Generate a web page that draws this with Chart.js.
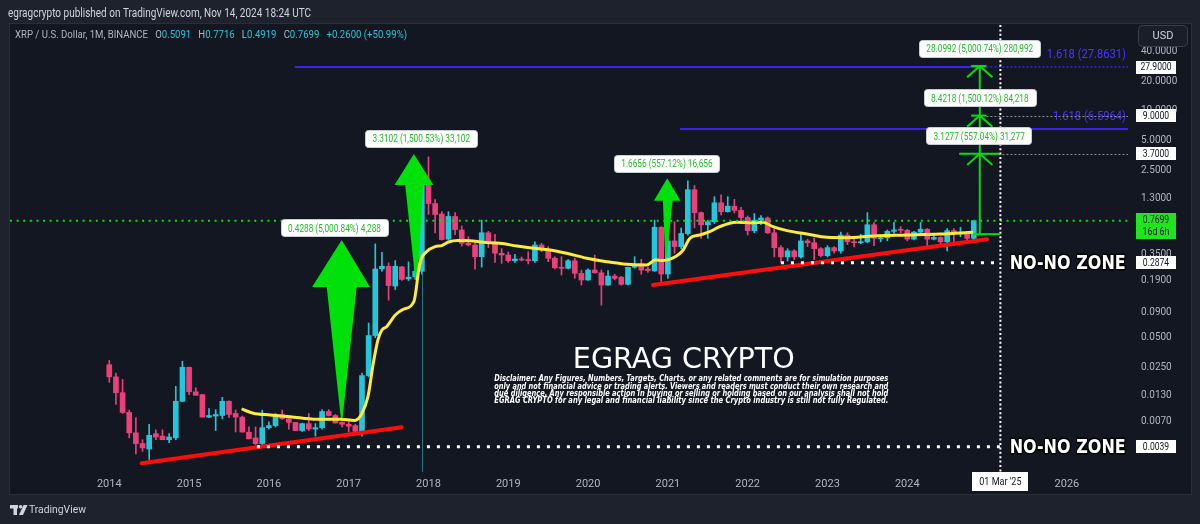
<!DOCTYPE html>
<html lang="en">
<head>
<meta charset="utf-8">
<title>XRP / U.S. Dollar, 1M, BINANCE</title>
<script src="https://cdn.jsdelivr.net/npm/chart.js@4.4.1/dist/chart.umd.min.js"></script>
<style>
  html, body { margin: 0; padding: 0; background: #1e222d; overflow: hidden; }
  canvas { display: block; }
</style>
</head>
<body>
<canvas id="chartXrp" width="1200" height="524"></canvas>
<script>
// Monthly candles, Jan 2014 .. Nov 2024 (index 0 = Jan 2014)
const opens = [
  0.0266, 0.0200, 0.0138, 0.0087, 0.0054, 0.0042, 0.0037, 0.0053, 0.0050, 0.0046, 0.0048, 0.0113,
  0.0250, 0.0141, 0.0132, 0.0078, 0.0080, 0.0081, 0.0113, 0.0085, 0.0078, 0.0055, 0.0048, 0.0042,
  0.0061, 0.0064, 0.0083, 0.0075, 0.0069, 0.0057, 0.0067, 0.0059, 0.0061, 0.0089, 0.0081, 0.0069,
  0.0066, 0.0064, 0.0056, 0.0206, 0.0525, 0.250, 0.265, 0.167, 0.261, 0.1975, 0.207, 0.236,
  1.86, 1.15, 0.90, 0.50, 0.85, 0.62, 0.454, 0.436, 0.332, 0.581, 0.46, 0.359,
  0.345, 0.302, 0.314, 0.31, 0.302, 0.436, 0.388, 0.32, 0.259, 0.253, 0.302, 0.225,
  0.1925, 0.243, 0.228, 0.171, 0.211, 0.205, 0.174, 0.259, 0.28, 0.248, 0.238, 0.66,
  0.2215, 0.48, 0.42, 0.57, 1.59, 0.93, 0.70, 0.75, 1.17, 0.95, 1.08, 0.98,
  0.83, 0.61, 0.78, 0.82, 0.58, 0.41, 0.33, 0.38, 0.33, 0.48, 0.46, 0.40,
  0.34, 0.41, 0.38, 0.55, 0.47, 0.46, 0.47, 0.70, 0.505, 0.515, 0.60, 0.62,
  0.615, 0.50, 0.59, 0.63, 0.50, 0.52, 0.47, 0.61, 0.57, 0.59, 0.5091
];
const highs = [
  0.0294, 0.0219, 0.0188, 0.0092, 0.0077, 0.0046, 0.0066, 0.0058, 0.0058, 0.0053, 0.0160, 0.0288,
  0.0252, 0.0155, 0.0133, 0.0095, 0.0093, 0.0124, 0.0114, 0.0092, 0.0080, 0.0062, 0.0062, 0.0092,
  0.0070, 0.0085, 0.0092, 0.0078, 0.0069, 0.0068, 0.0085, 0.0067, 0.0093, 0.0093, 0.0083, 0.0070,
  0.0070, 0.0066, 0.0219, 0.0706, 0.448, 0.368, 0.287, 0.303, 0.265, 0.294, 0.260, 2.40,
  3.42, 1.26, 0.95, 0.95, 0.93, 0.68, 0.53, 0.46, 0.78, 0.60, 0.56, 0.40,
  0.37, 0.35, 0.33, 0.373, 0.47, 0.454, 0.42, 0.33, 0.332, 0.31, 0.32, 0.243,
  0.25, 0.345, 0.243, 0.24, 0.22, 0.21, 0.26, 0.332, 0.312, 0.26, 0.78, 0.67,
  0.50, 0.75, 0.65, 1.96, 1.75, 0.94, 0.78, 1.35, 1.41, 1.35, 1.27, 1.05,
  0.86, 0.91, 0.87, 0.84, 0.64, 0.43, 0.40, 0.39, 0.56, 0.50, 0.51, 0.41,
  0.43, 0.42, 0.59, 0.58, 0.50, 0.56, 0.93, 0.74, 0.54, 0.62, 0.74, 0.67,
  0.63, 0.60, 0.74, 0.64, 0.55, 0.53, 0.64, 0.64, 0.66, 0.60, 0.7716
];
const lows = [
  0.0176, 0.0105, 0.0085, 0.0048, 0.0033, 0.0035, 0.0029, 0.0046, 0.0046, 0.0043, 0.0046, 0.0112,
  0.0132, 0.0130, 0.0078, 0.0077, 0.0057, 0.0075, 0.0077, 0.0055, 0.0055, 0.0047, 0.0041, 0.0041,
  0.0059, 0.0062, 0.0074, 0.0059, 0.0057, 0.0056, 0.0057, 0.0050, 0.0059, 0.0080, 0.0068, 0.0062,
  0.0055, 0.0055, 0.0050, 0.0200, 0.050, 0.236, 0.120, 0.154, 0.190, 0.190, 0.195, 0.220,
  0.89, 0.58, 0.49, 0.49, 0.556, 0.425, 0.426, 0.248, 0.26, 0.41, 0.29, 0.284,
  0.29, 0.29, 0.30, 0.28, 0.29, 0.373, 0.295, 0.25, 0.216, 0.25, 0.20, 0.171,
  0.19, 0.225, 0.107, 0.17, 0.1925, 0.17, 0.172, 0.253, 0.22, 0.23, 0.235, 0.171,
  0.20, 0.36, 0.40, 0.55, 0.65, 0.51, 0.51, 0.72, 0.88, 0.94, 0.92, 0.72,
  0.55, 0.58, 0.70, 0.57, 0.33, 0.29, 0.30, 0.31, 0.32, 0.42, 0.31, 0.33,
  0.33, 0.36, 0.36, 0.44, 0.42, 0.45, 0.46, 0.43, 0.47, 0.48, 0.57, 0.58,
  0.48, 0.49, 0.56, 0.42, 0.49, 0.44, 0.38, 0.43, 0.53, 0.49, 0.4919
];
const closes = [
  0.0200, 0.0138, 0.0087, 0.0054, 0.0042, 0.0038, 0.0051, 0.0049, 0.0046, 0.0049, 0.0113, 0.0250,
  0.0141, 0.0130, 0.0078, 0.0081, 0.0083, 0.0113, 0.0083, 0.0078, 0.0055, 0.0047, 0.0042, 0.0061,
  0.0064, 0.0083, 0.0075, 0.0069, 0.0057, 0.0067, 0.0059, 0.0061, 0.0089, 0.0081, 0.0068, 0.0066,
  0.0063, 0.0056, 0.0206, 0.0525, 0.249, 0.265, 0.169, 0.265, 0.195, 0.205, 0.236, 1.86,
  1.15, 0.89, 0.495, 0.85, 0.625, 0.454, 0.436, 0.332, 0.581, 0.46, 0.36, 0.345,
  0.302, 0.314, 0.307, 0.302, 0.436, 0.388, 0.32, 0.256, 0.253, 0.302, 0.225, 0.1925,
  0.243, 0.228, 0.171, 0.211, 0.200, 0.174, 0.259, 0.267, 0.243, 0.240, 0.66, 0.2215,
  0.48, 0.42, 0.57, 1.59, 0.93, 0.70, 0.75, 1.17, 0.95, 1.08, 0.98, 0.83,
  0.61, 0.78, 0.82, 0.58, 0.41, 0.33, 0.38, 0.33, 0.48, 0.46, 0.40, 0.34,
  0.41, 0.38, 0.55, 0.47, 0.46, 0.47, 0.70, 0.51, 0.515, 0.60, 0.62, 0.615,
  0.50, 0.59, 0.63, 0.50, 0.52, 0.47, 0.61, 0.57, 0.59, 0.5099, 0.7699
];

// yellow average line as [month index, price]
const movingAverage = [
  [19.9, 0.00944], [21.65, 0.00854], [24.2, 0.0082], [27.2, 0.00788], [31.2, 0.00742], [34.7, 0.00742],
  [36.9, 0.00722], [37.95, 0.0084], [38.9, 0.01258], [39.7, 0.02746], [40.4, 0.0474], [41.0, 0.0598],
  [41.7, 0.0646], [43.0, 0.0849], [44.2, 0.097], [45.8, 0.116], [46.7, 0.284], [47.7, 0.373],
  [49.0, 0.42], [50.0, 0.43], [51.0, 0.468], [52.4, 0.484], [54.2, 0.483], [56.2, 0.465],
  [58.75, 0.454], [61.3, 0.426], [63.8, 0.404], [66.3, 0.388], [68.8, 0.359], [71.8, 0.32],
  [74.8, 0.295], [77.3, 0.28], [80.8, 0.273], [82.1, 0.307], [83.3, 0.304], [85.3, 0.337],
  [86.3, 0.388], [87.3, 0.51], [88.8, 0.551], [90.3, 0.595], [91.8, 0.67], [94.3, 0.741],
  [96.8, 0.735], [98.3, 0.741], [99.8, 0.67], [101.9, 0.61], [104.9, 0.564], [107.9, 0.522],
  [110.9, 0.518], [114.9, 0.539], [119.9, 0.551], [124.9, 0.564], [129.9, 0.587]
];

// red support lines
const supportOld = [[4.87, 0.00265], [43.97, 0.00615]];
const supportNew = [[81.76, 0.171], [132.0, 0.5]];

// axis ticks
const yearLabels = ['2014', '2015', '2016', '2017', '2018', '2019', '2020', '2021', '2022', '2023', '2024', '2025', '2026'];
const priceTicks = [40, 20, 10, 5, 2.5, 1.3, 0.35, 0.19, 0.09, 0.05, 0.025, 0.013, 0.007, 0.0039];

// drawings, anchored at (month index, price)
const markerIndex = 134;                 // 01 Mar '25
const measureBase = 0.5619;
const measureGains = [3.1277, 8.4218, 28.0992];
const fibLevels = [27.8631, 6.5964];
const fibStarts = [27.9, 85.8];
const fibTexts = ['1.618 (27.8631)', '1.618 (6.5964)'];
const noNoLevels = [0.2874, 0.0039];
const noNoStarts = [101, 22.2];
const axisBadges = [27.9, 9.0, 3.7, 0.2874, 0.0039];
const gainTexts = [
  '0.4288 (5,000.84%) 4,288',
  '3.3102 (1,500.53%) 33,102',
  '1.6656 (557.12%) 16,656',
  '28.0992 (5,000.74%) 280,992',
  '8.4218 (1,500.12%) 84,218',
  '3.1277 (557.04%) 31,277'
];
const gainAnchors = [[33.86, 0.652], [46.92, 5.285], [83.86, 2.946], [130.9, 43.3], [130.9, 13.56], [130.8, 5.578]];
// tip i, tip price, head price, head left i, head right i, shaft left i, shaft right i, foot left i, foot right i, foot price
const bigArrows = [
  [34.95, 0.49, 0.1635, 30.5, 39.2, 32.7, 37.2, 34.85, 35.05, 0.0073],
  [45.8, 3.66, 1.77, 42.9, 48.75, 44.5, 47.2, 46.0, 46.4, 0.2017],
  [83.9, 2.08, 1.229, 81.9, 85.9, 83.25, 84.7, 83.6, 83.85, 0.332]
];
const disclaimer = [
  'Disclaimer: Any Figures, Numbers, Targets, Charts, or any related comments are for simulation purposes',
  'only and not financial advice or trading alerts. Viewers and readers must conduct their own research and',
  'due diligence. Any responsible action in buying or selling or holding based on our analysis shall not hold',
  'EGRAG CRYPTO for any legal and financial liability since the Crypto industry is still not fully Regulated.'
];

const UP = '#26c6da';
const DOWN = '#ec407a';
const GREEN = '#00e10b';
const LABEL_GREEN = '#1fbf24';
const FIB = '#3b22f2';
const FONT = 'Roboto, "Liberation Sans", sans-serif';
const last = closes.length - 1;

const bodyData = opens.map((o, i) => ({ x: i, y: [Math.min(o, closes[i]), Math.max(o, closes[i])] }));
const wickData = opens.map((o, i) => ({ x: i, y: [lows[i], highs[i]] }));
const candleColor = ctx => closes[ctx.dataIndex] >= opens[ctx.dataIndex] ? UP : DOWN;
const toPoints = arr => arr.map(([x, y]) => ({ x, y }));

function segment(ctx, x1, y1, x2, y2, color, width, dash) {
  ctx.save();
  ctx.strokeStyle = color;
  ctx.lineWidth = width;
  ctx.setLineDash(dash || []);
  ctx.beginPath();
  ctx.moveTo(x1, y1);
  ctx.lineTo(x2, y2);
  ctx.stroke();
  ctx.restore();
}

function squeezed(ctx, text, x, y, factor) {
  const w = ctx.measureText(text).width * factor;
  ctx.fillText(text, x, y, w);
  return w;
}

const background = {
  id: 'background',
  beforeDraw(chart) {
    const { ctx, width, height, chartArea } = chart;
    ctx.save();
    ctx.fillStyle = '#1e222d';
    ctx.fillRect(0, 0, width, height);
    ctx.fillStyle = '#131722';
    ctx.fillRect(chartArea.left, chartArea.top - 1, 1181, 470);
    ctx.strokeStyle = '#2a2e39';
    ctx.strokeRect(chartArea.left - 0.5, chartArea.top - 1.5, 1182, 471);
    ctx.restore();
  }
};

const drawings = {
  id: 'drawings',
  afterDatasetDraw(chart, args) {
    // big green arrows sit over the candles, under the lines
    if (args.index !== 0) return;
    const { ctx } = chart;
    const X = v => chart.scales.x.getPixelForValue(v);
    const Y = v => chart.scales.y.getPixelForValue(v);
    ctx.save();
    ctx.fillStyle = GREEN;
    bigArrows.forEach(([ti, tp, hp, hl, hr, sl, sr, fl, fr, fp]) => {
      ctx.beginPath();
      ctx.moveTo(X(ti), Y(tp));
      ctx.lineTo(X(hr), Y(hp));
      ctx.lineTo(X(sr), Y(hp));
      ctx.lineTo(X(fr), Y(fp));
      ctx.lineTo(X(fl), Y(fp));
      ctx.lineTo(X(sl), Y(hp));
      ctx.lineTo(X(hl), Y(hp));
      ctx.closePath();
      ctx.fill();
    });
    ctx.restore();
  },
  afterDatasetsDraw(chart) {
    const { ctx, chartArea: area } = chart;
    const X = v => chart.scales.x.getPixelForValue(v);
    const Y = v => chart.scales.y.getPixelForValue(v);
    const crisp = v => Math.round(v) + 0.5;

    // thin vertical line at Dec 2017
    segment(ctx, crisp(X(47)), Y(lows[47]), crisp(X(47)), area.bottom, 'rgba(38,198,218,0.55)', 1);

    // last price
    const yLast = Y(closes[last]);
    segment(ctx, area.left, yLast, area.right, yLast, GREEN, 2, [2, 4.6]);

    // fib extension lines
    ctx.save();
    ctx.font = `13px ${FONT}`;
    ctx.textAlign = 'right';
    ctx.textBaseline = 'middle';
    ctx.fillStyle = '#4a35ff';
    fibLevels.forEach((lvl, k) => {
      const y = Math.round(Y(lvl));
      const xEnd = k === 0 ? X(131.9) : area.right;
      segment(ctx, X(fibStarts[k]), y, xEnd, y, FIB, 2);
      if (k === 0) segment(ctx, xEnd, y, area.right, y, FIB, 1.5, [2, 2]);
      squeezed(ctx, fibTexts[k], area.right - 2, y - 12, 0.86);
    });
    ctx.restore();

    // grey rays from the targets
    measureGains.slice(0, 2).forEach(g => {
      const y = crisp(Y(measureBase + g));
      segment(ctx, X(131.9), y, area.right, y, '#8a8d96', 1, [2, 2]);
    });

    // NO-NO ZONE levels
    ctx.save();
    ctx.font = 'bold 20px "DejaVu Sans", sans-serif';
    ctx.textAlign = 'left';
    ctx.textBaseline = 'middle';
    noNoLevels.forEach((lvl, k) => {
      const y = Y(lvl);
      segment(ctx, X(noNoStarts[k]), y, X(markerIndex), y, '#ffffff', 3, [3, 7]);
      ctx.lineWidth = 3;
      ctx.strokeStyle = '#000000';
      ctx.lineJoin = 'round';
      ctx.strokeText('NO-NO ZONE', X(135.4), y + 1, 116);
      ctx.fillStyle = '#ffffff';
      ctx.fillText('NO-NO ZONE', X(135.4), y + 1, 116);
    });
    ctx.restore();

    // vertical marker
    segment(ctx, X(markerIndex), area.top, X(markerIndex), area.bottom, '#ffffff', 2, [2, 2.4]);

    // projection from the base
    const xm = X(130.9);
    const top = measureBase + Math.max(...measureGains);
    segment(ctx, xm, Y(measureBase), xm, Y(top), GREEN, 2);
    segment(ctx, X(129.9), Y(measureBase), X(markerIndex), Y(measureBase), GREEN, 2);
    measureGains.forEach((g, k) => {
      const p = measureBase + g;
      const y = Y(p);
      const wide = k === 0;
      segment(ctx, X(wide ? 127.8 : 129.6), y, X(wide ? 133.8 : 131.9), y, GREEN, 2);
      segment(ctx, xm, y, X(129.0), Y(p / 1.3), GREEN, 2);
      segment(ctx, xm, y, X(132.8), Y(p / 1.3), GREEN, 2);
    });

    // gain labels
    ctx.save();
    ctx.font = `11px ${FONT}`;
    ctx.textAlign = 'center';
    ctx.textBaseline = 'middle';
    gainTexts.forEach((txt, k) => {
      const cx = X(gainAnchors[k][0]);
      const cy = Y(gainAnchors[k][1]);
      const w = ctx.measureText(txt).width * 0.75;
      ctx.fillStyle = '#ffffff';
      ctx.strokeStyle = '#c9ccd4';
      ctx.lineWidth = 1;
      ctx.beginPath();
      ctx.roundRect(Math.round(cx - w / 2 - 7) + 0.5, Math.round(cy - 8.5) + 0.5, Math.round(w + 14), 17, 3);
      ctx.fill();
      ctx.stroke();
      ctx.fillStyle = LABEL_GREEN;
      ctx.fillText(txt, cx, cy + 1, w);
    });
    ctx.restore();

    // watermark text
    ctx.save();
    ctx.fillStyle = '#ffffff';
    ctx.textBaseline = 'middle';
    ctx.textAlign = 'center';
    ctx.font = '29px "DejaVu Sans", sans-serif';
    ctx.fillText('EGRAG CRYPTO', X(86.4), Y(0.029), 222);
    ctx.textAlign = 'left';
    ctx.font = 'italic bold 8.5px "DejaVu Sans", sans-serif';
    const y0 = Y(0.0189);
    disclaimer.forEach((line, k) => ctx.fillText(line, X(57.9), y0 + k * 7.3, 394));
    ctx.restore();

    // price axis badges
    ctx.save();
    ctx.font = `11px ${FONT}`;
    ctx.textAlign = 'center';
    ctx.textBaseline = 'middle';
    const bx = area.right + 8;
    axisBadges.forEach(v => {
      const y = Y(v);
      ctx.fillStyle = '#ffffff';
      ctx.fillRect(bx, Math.round(y - 6.5), 40, 13);
      ctx.fillStyle = '#131722';
      squeezed(ctx, v.toFixed(4), bx + 20, y + 0.5, 0.78);
    });
    ctx.fillStyle = '#1ee51e';
    ctx.fillRect(bx, Math.round(yLast - 7.5), 40, 26);
    ctx.fillStyle = '#131722';
    squeezed(ctx, closes[last].toFixed(4), bx + 20, yLast, 0.78);
    squeezed(ctx, '16d 6h', bx + 20, yLast + 11.5, 0.8);

    // time axis badge
    const xt = X(markerIndex);
    ctx.fillStyle = '#ffffff';
    ctx.fillRect(Math.round(xt - 28), area.bottom, 56, 19);
    ctx.fillStyle = '#131722';
    squeezed(ctx, "01 Mar '25", xt, area.bottom + 10, 0.82);

    // USD button
    ctx.fillStyle = '#1a1e29';
    ctx.strokeStyle = '#3a3e4a';
    ctx.beginPath();
    ctx.roundRect(1138.5, 25.5, 49, 21, 4);
    ctx.fill();
    ctx.stroke();
    ctx.fillStyle = '#d1d4dc';
    ctx.fillText('USD', 1163, 36.5);
    ctx.restore();
  },
  afterDraw(chart) {
    const { ctx } = chart;
    ctx.save();
    ctx.textBaseline = 'middle';
    ctx.textAlign = 'left';
    ctx.font = `12px ${FONT}`;
    ctx.fillStyle = '#d1d4dc';
    ctx.fillText('egragcrypto published on TradingView.com, Nov 14, 2024 18:24 UTC', 8, 13.5, 303);

    // legend line, values from the last candle
    const change = closes[last] - closes[last - 1];
    const pct = change / closes[last - 1] * 100;
    const sign = change >= 0 ? '+' : '';
    const grey = '#b2b5be';
    const parts = [
      ['XRP / U.S. Dollar, 1M, BINANCE   ', grey],
      ['O', grey], [opens[last].toFixed(4) + '   ', UP],
      ['H', grey], [highs[last].toFixed(4) + '   ', UP],
      ['L', grey], [lows[last].toFixed(4) + '   ', UP],
      ['C', grey], [closes[last].toFixed(4) + '   ', UP],
      [`${sign}${change.toFixed(4)} (${sign}${pct.toFixed(2)}%)`, UP]
    ];
    ctx.font = `11px ${FONT}`;
    const total = parts.reduce((s, [t]) => s + ctx.measureText(t).width, 0);
    ctx.translate(15, 35);
    ctx.scale(392 / total, 1);
    let x = 0;
    parts.forEach(([t, c]) => {
      ctx.fillStyle = c;
      ctx.fillText(t, x, 0);
      x += ctx.measureText(t).width;
    });
    ctx.restore();

    // footer logo
    ctx.save();
    ctx.fillStyle = '#d1d4dc';
    ctx.fillRect(10, 505, 8, 3.5);
    ctx.fillRect(13.5, 505, 3.5, 10);
    ctx.beginPath();
    ctx.arc(20.6, 506.8, 1.8, 0, Math.PI * 2);
    ctx.fill();
    ctx.beginPath();
    ctx.moveTo(23.5, 505);
    ctx.lineTo(27.5, 505);
    ctx.lineTo(23, 515);
    ctx.lineTo(19, 515);
    ctx.closePath();
    ctx.fill();
    ctx.font = `11px ${FONT}`;
    ctx.textBaseline = 'middle';
    ctx.fillText('TradingView', 29, 510.5, 57);
    ctx.restore();
  }
};

new Chart(document.getElementById('chartXrp'), {
  type: 'bar',
  data: {
    datasets: [
      {
        label: 'bodies', data: bodyData, backgroundColor: candleColor,
        barThickness: 5, maxBarThickness: 5, minBarLength: 1, grouped: false, order: 1
      },
      {
        label: 'wicks', data: wickData, backgroundColor: candleColor,
        barThickness: 1, maxBarThickness: 1, grouped: false, order: 2
      },
      {
        type: 'line', label: 'average', data: toPoints(movingAverage),
        borderColor: '#ffeb3b', borderWidth: 3, pointRadius: 0,
        cubicInterpolationMode: 'monotone', order: 0
      },
      {
        type: 'line', label: 'support 2014-2017', data: toPoints(supportOld),
        borderColor: '#ff0d0d', borderWidth: 4, borderCapStyle: 'round', pointRadius: 0, order: 0
      },
      {
        type: 'line', label: 'support 2020-2024', data: toPoints(supportNew),
        borderColor: '#ff0d0d', borderWidth: 4, borderCapStyle: 'round', pointRadius: 0, order: 0
      }
    ]
  },
  options: {
    responsive: false,
    animation: false,
    devicePixelRatio: 1,
    layout: { padding: { left: 10, top: 25, right: 0, bottom: 0 } },
    plugins: { legend: { display: false }, tooltip: { enabled: false } },
    scales: {
      x: {
        type: 'linear',
        min: -14.93,
        max: 153.19,
        bounds: 'data',
        offset: false,
        grid: { display: false, offset: false, drawTicks: false },
        border: { display: false },
        afterBuildTicks: s => { s.ticks = yearLabels.map((_, k) => ({ value: k * 12 })); },
        afterFit: s => { s.height = 52; },
        ticks: {
          autoSkip: false, maxRotation: 0, padding: 6, color: '#b2b5be',
          font: { family: 'Roboto', size: 11 },
          callback: (v, idx) => yearLabels[idx]
        }
      },
      y: {
        type: 'logarithmic',
        position: 'right',
        min: 0.0021627,
        max: 74.66,
        bounds: 'data',
        grid: { display: false, drawTicks: false },
        border: { display: false },
        afterBuildTicks: s => { s.ticks = priceTicks.map(v => ({ value: v })); },
        afterFit: s => { s.width = 72; },
        ticks: {
          padding: 13, color: '#b2b5be',
          font: { family: 'Roboto', size: 10 },
          callback: v => Number(v).toFixed(4)
        }
      }
    }
  },
  plugins: [background, drawings]
});
</script>
</body>
</html>
